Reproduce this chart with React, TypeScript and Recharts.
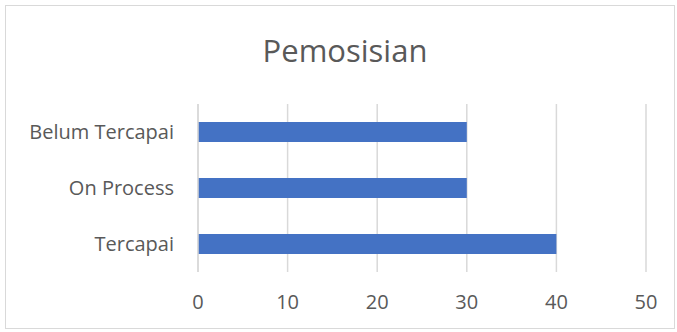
import { BarChart, Bar, XAxis, YAxis, CartesianGrid } from 'recharts';

const categories = ['Belum Tercapai', 'On Process', 'Tercapai'];
const values = [30, 30, 40];
const xTicks = [0, 10, 20, 30, 40, 50];

const data = categories.map((name, i) => ({ name, value: values[i] }));

const font = '"Open Sans", "Noto Sans", sans-serif';

export default function App() {
  return (
    <div style={{ position: 'absolute', left: 0, top: 0, width: 677, height: 332, background: '#fff' }}>
      <div
        style={{
          position: 'absolute',
          left: 5,
          top: 5,
          width: 670,
          height: 324,
          border: '1px solid #d9d9d9',
          boxSizing: 'border-box',
        }}
      />
      <div
        style={{
          position: 'absolute',
          left: 0,
          top: 29,
          width: 690,
          textAlign: 'center',
          fontFamily: font,
          fontSize: 31,
          lineHeight: 'normal',
          color: '#595959',
        }}
      >
        Pemosisian
      </div>
      <BarChart
        width={677}
        height={332}
        data={data}
        layout="vertical"
        margin={{ top: 104, right: 31, left: 0, bottom: 0 }}
        style={{ position: 'absolute', left: 0, top: 0 }}
      >
        <CartesianGrid horizontal={false} stroke="#d9d9d9" strokeWidth={1.5} />
        <XAxis
          type="number"
          domain={[0, 50]}
          ticks={xTicks}
          axisLine={false}
          tickLine={false}
          tickSize={0}
          tickMargin={23}
          height={60}
          tick={{ fill: '#595959', fontSize: 20, fontFamily: font }}
        />
        <YAxis
          type="category"
          dataKey="name"
          width={198}
          axisLine={{ stroke: '#d9d9d9', strokeWidth: 1.5 }}
          tickLine={false}
          tickSize={0}
          tickMargin={24}
          tick={{ fill: '#595959', fontSize: 20, fontFamily: font }}
        />
        <Bar dataKey="value" fill="#4472C4" barSize={20} isAnimationActive={false} />
      </BarChart>
    </div>
  );
}
